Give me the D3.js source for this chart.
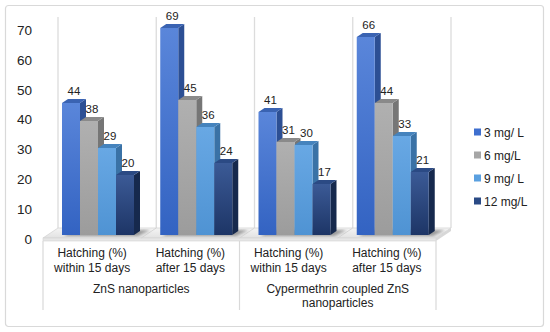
<html>
<meta charset="utf-8">
<style>
  body { margin: 0; background: #fff; }
  text { font-family: "Liberation Sans", Arial, sans-serif; fill: #222; }
</style>
<body>
<script src="https://cdn.jsdelivr.net/npm/d3@7"></script>
<script>
// data
var categories = ["within1", "after1", "within2", "after2"];
var catLines = [["Hatching (%)", "within 15 days"], ["Hatching (%)", "after 15 days"],
                ["Hatching (%)", "within 15 days"], ["Hatching (%)", "after 15 days"]];
var groups = [["ZnS nanoparticles"], ["Cypermethrin coupled ZnS", "nanoparticles"]];
var series = ["3 mg/ L", "6 mg/L", "9 mg/ L", "12 mg/L"];
var v3 = [44, 69, 41, 66];
var v6 = [38, 45, 31, 44];
var v9 = [29, 36, 30, 33];
var v12 = [20, 24, 17, 21];
var yTicks = [0, 10, 20, 30, 40, 50, 60, 70];

var seriesVals = [v3, v6, v9, v12];
var colors = [
  {top: "#5a86da", bot: "#3363c2", side: "#2c4f94", cap: "#3a63b2", key: "#3e6fcf"},
  {top: "#b0b0b0", bot: "#9c9c9c", side: "#767676", cap: "#8a8a8a", key: "#a6a6a6"},
  {top: "#68a8e4", bot: "#4f93d3", side: "#3a72a6", cap: "#4583bd", key: "#5aa0e0"},
  {top: "#3b5a96", bot: "#1d3566", side: "#16294d", cap: "#2b4a84", key: "#2a4a85"}
];

var W = 550, H = 332;
var svg = d3.select("body").append("svg").attr("width", W).attr("height", H);
var defs = svg.append("defs");
colors.forEach(function(c, i) {
  var g = defs.append("linearGradient").attr("id", "g" + i)
    .attr("x1", 0).attr("y1", 0).attr("x2", 0).attr("y2", 1);
  g.append("stop").attr("offset", "0%").attr("stop-color", c.top);
  g.append("stop").attr("offset", "100%").attr("stop-color", c.bot);
});
var fl = defs.append("linearGradient").attr("id", "floor")
  .attr("x1", 0).attr("y1", 0).attr("x2", 0).attr("y2", 1);
fl.append("stop").attr("offset", "0%").attr("stop-color", "#f4f4f4");
fl.append("stop").attr("offset", "100%").attr("stop-color", "#e2e2e2");
defs.append("filter").attr("id", "blur").append("feGaussianBlur").attr("stdDeviation", 1.5);

// outer frame
svg.append("rect").attr("x", 5.5).attr("y", 5.5).attr("width", 538).attr("height", 321)
  .attr("rx", 3).attr("fill", "#fff").attr("stroke", "#d9d9d9").attr("stroke-width", 1.2);

// scales
var front = [43, 436];
var wdx = 15, wdy = -10;   // wall depth
var bdx = 6, bdy = -4;     // bar depth
var x0 = d3.scaleBand().domain(categories).range(front);
var x1 = d3.scaleBand().domain(series).range([19, 91]);
var y = d3.scaleLinear().domain([0, 70]).range([235, 25]);
var ya = d3.scaleLinear().domain([0, 70]).range([239, 30]);

// back wall gridlines
var wallX = categories.map(function(c) { return x0(c) + wdx; }).concat([front[1] + wdx]);
svg.selectAll(".wall").data(wallX).enter().append("line")
  .attr("x1", function(d) { return d; }).attr("x2", function(d) { return d; })
  .attr("y1", 17).attr("y2", 238 + wdy)
  .attr("stroke", "#dcdcdc").attr("stroke-width", 1.3);

// floor
var fy = 238;
svg.append("path")
  .attr("d", "M" + front[0] + "," + fy + "L" + front[1] + "," + fy + "L" + (front[1] + wdx) + "," + (fy + wdy) +
    "L" + (front[0] + wdx) + "," + (fy + wdy) + "Z")
  .attr("fill", "url(#floor)").attr("stroke", "#d4d4d4").attr("stroke-width", 0.8);
svg.append("rect").attr("x", front[0]).attr("y", fy).attr("width", front[1] - front[0]).attr("height", 3)
  .attr("fill", "#e6e6e6").attr("stroke", "#d4d4d4").attr("stroke-width", 0.6);
svg.append("path")
  .attr("d", "M" + front[1] + "," + fy + "L" + (front[1] + wdx) + "," + (fy + wdy) + "L" + (front[1] + wdx) + "," + (fy + wdy + 3) +
    "L" + front[1] + "," + (fy + 3) + "Z")
  .attr("fill", "#d8d8d8");
svg.selectAll(".fdiv").data(categories.slice(1)).enter().append("line")
  .attr("x1", function(c) { return x0(c); }).attr("y1", fy)
  .attr("x2", function(c) { return x0(c) + wdx; }).attr("y2", fy + wdy)
  .attr("stroke", "#d0d0d0").attr("stroke-width", 0.8);

// bars
var cats = svg.selectAll(".cat").data(categories).enter().append("g")
  .attr("transform", function(c) { return "translate(" + x0(c) + ",0)"; });

cats.each(function(c, ci) {
  var g = d3.select(this);
  var bw = x1.bandwidth();
  // shadow on floor
  var last = x1(series[3]) + bw;
  g.append("path")
    .attr("d", "M" + (x1(series[0]) + 2) + "," + (y(0) + 1) + "L" + (last + 4) + "," + (y(0) + 1) +
      "L" + (last + bdx + 10) + "," + (y(0) - 5) + "L" + (x1(series[0]) + bdx + 4) + "," + (y(0) - 5) + "Z")
    .attr("fill", "#555").attr("opacity", 0.55).attr("filter", "url(#blur)");
  series.forEach(function(s, si) {
    var v = seriesVals[si][ci];
    var bx = x1(s), top = y(v), bot = y(0), col = colors[si];
    // side
    g.append("path")
      .attr("d", "M" + (bx + bw) + "," + bot + "L" + (bx + bw + bdx) + "," + (bot + bdy) +
        "L" + (bx + bw + bdx) + "," + (top + bdy) + "L" + (bx + bw) + "," + top + "Z")
      .attr("fill", col.side);
    // front
    g.append("rect").attr("x", bx).attr("y", top).attr("width", bw).attr("height", bot - top)
      .attr("fill", "url(#g" + si + ")");
    // cap
    g.append("path")
      .attr("d", "M" + bx + "," + top + "L" + (bx + bw) + "," + top + "L" + (bx + bw + bdx) + "," + (top + bdy) +
        "L" + (bx + bdx) + "," + (top + bdy) + "Z")
      .attr("fill", col.cap);
    // value label
    g.append("text").attr("x", bx + bw / 2 + 3).attr("y", top - 8.5)
      .attr("text-anchor", "middle").style("font-size", "11.5px").text(v);
  });
});

// y axis labels
var yAxis = d3.axisLeft(ya).tickValues(yTicks).tickSize(0).tickPadding(0);
var ag = svg.append("g").attr("transform", "translate(32,0)").call(yAxis);
ag.select(".domain").remove();
ag.selectAll("text").style("font-size", "13.5px").style("font-family", "Liberation Sans, Arial, sans-serif")
  .attr("fill", "#222");

// category label box
var boxLines = [front[0], x0(categories[2]), front[1]];
svg.selectAll(".bl").data(boxLines).enter().append("line")
  .attr("x1", function(d) { return d; }).attr("x2", function(d) { return d; })
  .attr("y1", fy + 3).attr("y2", 310)
  .attr("stroke", "#d9d9d9").attr("stroke-width", 1.2);

categories.forEach(function(c, i) {
  var t = svg.append("text").attr("x", x0(c) + x0.bandwidth() / 2).attr("y", 257)
    .attr("text-anchor", "middle").style("font-size", "12px");
  catLines[i].forEach(function(l, li) {
    t.append("tspan").attr("x", x0(c) + x0.bandwidth() / 2).attr("dy", li ? 15 : 0).text(l);
  });
});
groups.forEach(function(lines, gi) {
  var cx = x0(categories[gi * 2]) + x0.bandwidth();
  var t = svg.append("text").attr("x", cx).attr("y", 293)
    .attr("text-anchor", "middle").style("font-size", "12px");
  lines.forEach(function(l, li) {
    t.append("tspan").attr("x", cx).attr("dy", li ? 14 : 0).text(l);
  });
});

// legend
var lg = svg.selectAll(".leg").data(series).enter().append("g")
  .attr("transform", function(d, i) { return "translate(474," + (132 + i * 23) + ")"; });
lg.append("rect").attr("x", 0).attr("y", -3.5).attr("width", 7).attr("height", 7)
  .attr("fill", function(d, i) { return colors[i].key; });
lg.append("text").attr("x", 10).attr("y", 4.5).style("font-size", "12px").text(function(d) { return d; });
</script>
</body>
</html>
